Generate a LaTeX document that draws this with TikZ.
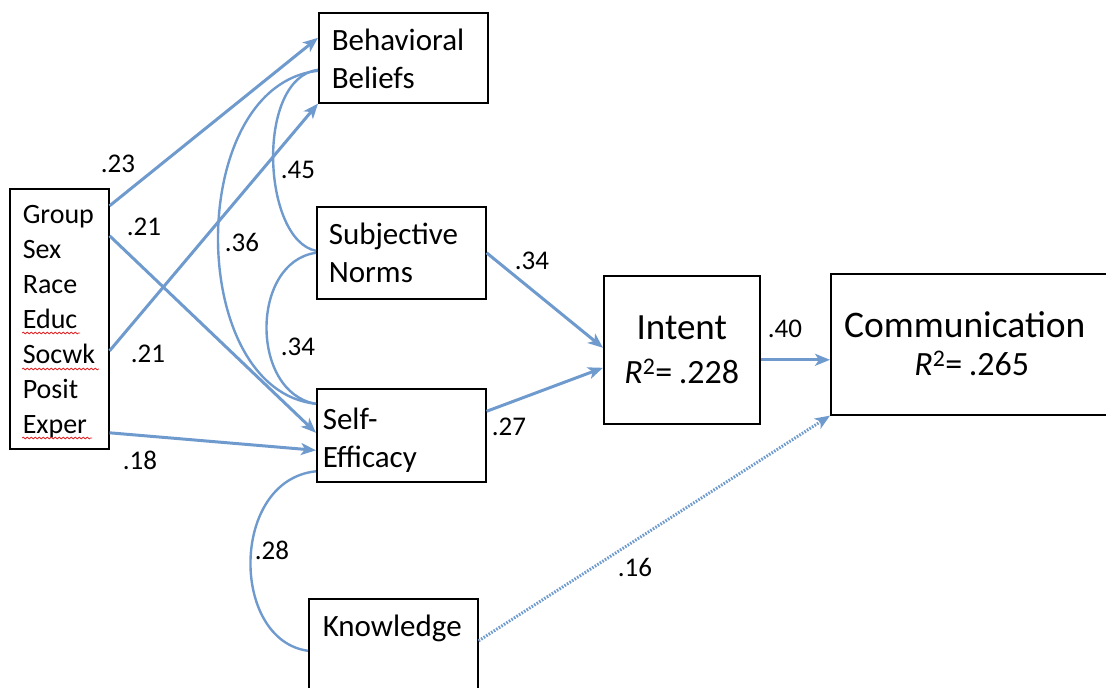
\documentclass[tikz,border=0pt]{standalone}
\usepackage{fontspec}
\setmainfont{Carlito}
\usetikzlibrary{arrows.meta,decorations.pathmorphing}
\definecolor{pathblue}{RGB}{110,154,206}
\definecolor{spellred}{RGB}{225,40,40}
\newcommand{\rsqline}[1]{{\fontsize{34}{38}\selectfont\textit{R}\textsuperscript{2}=\hspace{0.19em}#1}}
\begin{document}
\begin{tikzpicture}[x=1pt,y=-1pt,
  box/.style={draw=black, line width=1.6pt, inner ysep=0pt, anchor=north west},
  lbl/.style={font=\fontsize{31}{38}\selectfont, align=left},
  coef/.style={font=\fontsize{27}{30}\selectfont, inner sep=0pt},
  patharrow/.style={draw=pathblue, line width=3pt, -{Stealth[length=15pt,width=12pt,inset=4pt]}},
  corr/.style={draw=pathblue, line width=2.4pt},
  squiggle/.style={draw=spellred, line width=0.8pt, decorate,
    decoration={snake, amplitude=0.9pt, segment length=4pt}},
]
\useasboundingbox (0,0) rectangle (1106,688);

% variables
\node[box, font=\fontsize{28}{35}\selectfont, align=left, inner xsep=13pt,
      text width=73pt, text height=35pt, text depth=225pt] (ctrl) at (9,188)
  {Group\\Sex\\Race\\Educ\\Socwk\\Posit\\Exper};
\node[box, lbl, inner xsep=13pt, text width=143pt, text height=38pt, text depth=52pt]
  (bb) at (318,12) {Behavioral\\Beliefs};
\node[box, lbl, inner xsep=12pt, text width=145pt, text height=37.5pt, text depth=54.5pt]
  (sn) at (316,206) {Subjective\\Norms};
\node[box, lbl, inner xsep=6pt, text width=157pt, text height=41pt, text depth=52pt]
  (se) at (316,388) {Self-\\Efficacy};
\node[box, lbl, inner xsep=14pt, text width=141pt, text height=38pt, text depth=58pt]
  (kn) at (308,598) {Knowledge};
\node[box, font=\fontsize{37}{44}\selectfont, align=center, inner xsep=0pt,
      text width=156pt, text height=64pt, text depth=84pt] (int) at (603,275)
  {Intent\\\rsqline{.228}};
\node[box, font=\fontsize{37.5}{38}\selectfont, align=left, inner xsep=0pt,
      text width=296pt, text height=64pt, text depth=77pt] (comm) at (830,273)
  {\makebox[268pt]{Communication}\\\makebox[282pt]{\rsqline{.265}}};

% spell-check marks
\draw[squiggle] (22,333) -- (80,333);
\draw[squiggle] (22,369) -- (99,369);
\draw[squiggle] (22,438) -- (92,438);

% correlations
\draw[corr] ([yshift=-12pt]bb.west) .. controls (255,78) and (262,240) .. ([yshift=2pt]sn.west);
\draw[corr] ([yshift=-13pt]bb.west) .. controls (185,85) and (185,390) .. ([yshift=31.5pt]se.west);
\draw[corr] (sn.west) .. controls (250,262) and (250,393) .. ([yshift=31.5pt]se.west);
\draw[corr] ([yshift=-36pt]se.west) .. controls (230,480) and (230,640) .. ([yshift=-4pt]kn.west);

% paths
\draw[patharrow] ([yshift=113pt]ctrl.east) -- ([yshift=20pt]bb.west);
\draw[patharrow] ([yshift=-32pt]ctrl.east) -- (bb.south west);
\draw[patharrow] ([yshift=83pt]ctrl.east) -- ([yshift=2.5pt]se.west);
\draw[patharrow] ([yshift=-114pt]ctrl.east) -- ([yshift=-15pt]se.west);
\draw[patharrow] (sn.east) -- ([yshift=2pt]int.west);
\draw[patharrow] ([yshift=24pt]se.east) -- ([yshift=-18pt]int.west);
\draw[patharrow] ([yshift=-10pt]int.east) -- ([yshift=-15.5pt]comm.west);
\draw[patharrow, dash pattern=on 1.6pt off 1.4pt] ([yshift=6pt]kn.east) -- (comm.south west);

% coefficients
\node[coef] (k23) at (118,164) {.23};
\node[coef] (k21a) at (144,227) {.21};
\node[coef] (k21b) at (148,354) {.21};
\node[coef] (k18) at (140,460) {.18};
\node[coef] (k45) at (298,170) {.45};
\node[coef] (k36) at (242,242) {.36};
\node[coef] (k34a) at (298,347) {.34};
\node[coef] (k28) at (272,550) {.28};
\node[coef] (k34b) at (532,261) {.34};
\node[coef] (k27) at (509,427) {.27};
\node[coef] (k40) at (785,329) {.40};
\node[coef] (k16) at (635,567) {.16};
\end{tikzpicture}
\end{document}
